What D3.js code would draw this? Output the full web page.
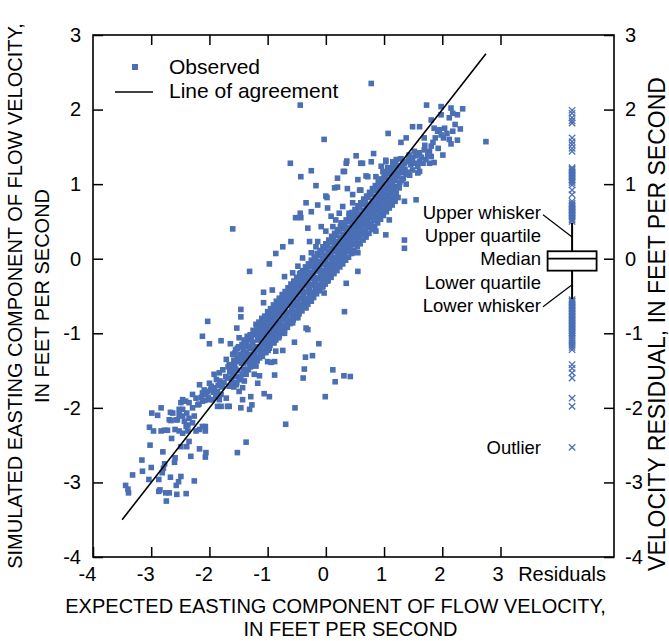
<!DOCTYPE html>
<html><head><meta charset="utf-8">
<script src="https://cdn.jsdelivr.net/npm/d3@7/dist/d3.min.js"></script>
<style>
body{margin:0;background:#fff}
svg{display:block}
text{font-family:"Liberation Sans",Arial,Helvetica,sans-serif;fill:#000}
</style>
</head><body>
<svg id="chart" width="669" height="641"></svg>
<script>
// ---------- data ----------
const axisTicks = [-4,-3,-2,-1,0,1,2,3];
const innerTicks = [-3,-2,-1,0,1,2,3];
const agreementEnds = [-3.5, 2.75];

const observedSparse = [
[-3.44,-3.04],[-3.40,-3.09],[-3.39,-3.14],[-3.32,-2.90],[-3.16,-2.70],[-3.15,-2.85],[-3.00,-2.80],[-3.04,-2.96],[-3.02,-2.50],[-3.03,-2.26],[-2.96,-2.31],[-2.99,-2.07],[-2.89,-2.10],[-2.83,-2.00],[-2.83,-2.31],[-2.77,-2.30],[-2.72,-2.30],[-2.67,-2.06],[-2.66,-2.17],[-2.65,-2.41],[-2.59,-2.29],[-2.52,-2.31],[-2.80,-2.59],[-2.77,-2.75],[-2.79,-2.81],[-2.81,-2.87],[-2.87,-2.96],[-2.85,-3.10],[-2.87,-3.12],[-2.75,-3.14],[-2.69,-3.14],[-2.74,-3.25],[-2.67,-2.93],[-2.60,-2.73],[-2.59,-2.67],[-2.57,-3.04],[-2.56,-3.16],[-2.53,-2.99],[-2.49,-2.92],[-2.40,-3.15],[-2.26,-2.98],[-2.49,-2.52],[-2.39,-2.52],[-2.35,-2.45],[-2.32,-2.65],[-2.17,-2.55],[-2.06,-2.60],[-2.07,-2.66],[-2.46,-2.34],[-2.37,-2.31],[-2.23,-2.31],[-2.17,-2.29],[-2.07,-2.31],[-2.07,-2.25],[-1.52,-2.60],[-2.49,-1.93],[-2.41,-1.91],[-2.46,-2.02],[-2.39,-2.07],[-2.35,-2.14],[-2.43,-2.18],[-2.29,-2.00],[-2.20,-1.96],[-2.12,-1.91],[-2.26,-2.11],[-2.52,-2.09],[-2.37,-2.23],[-2.00,-1.89],[-1.86,-1.98],[-1.69,-1.98],[-2.55,-2.16],
[-2.03,-0.84],[-1.53,-0.93],[-2.12,-1.04],[-2.00,-1.14],[-1.80,-1.10],[-1.64,-1.14],[-1.49,-1.06],[-1.52,-1.20],[-1.56,-1.26],[-1.36,-1.11],[-1.31,-1.20],[-1.20,-1.00],[-1.14,-0.93],[-1.03,-0.86],[-0.94,-1.00],[-0.88,-0.91],[-0.80,-1.04],[-0.86,-1.24],[-1.00,-1.38],[-1.09,-1.26],[-1.14,-1.18],[-1.26,-1.35],[-1.71,-1.35],[-1.66,-1.42],[-1.57,-1.42],[-1.77,-1.49],[-1.83,-1.53],[-1.92,-1.55],[-2.00,-1.67],[-2.17,-1.69],[-2.09,-1.76],[-1.97,-1.71],[-2.12,-1.80],[-2.03,-1.78],[-1.92,-1.73],[-1.86,-1.78],[-1.80,-1.82],[-1.89,-1.85],[-2.06,-1.82],[-1.95,-1.89],[-1.83,-1.89],[-2.29,-1.82],[-2.23,-1.87],[-2.35,-1.93],[-2.46,-1.89],[-2.52,-2.02],[-2.63,-2.07],[-2.69,-2.16],[-2.57,-2.16],[-2.46,-2.11],[-2.29,-2.20],[-2.40,-2.25],[-2.12,-2.25],[-1.80,-1.98],[-1.71,-1.87],[-1.66,-1.98],[-1.49,-1.78],[-1.43,-1.89],[-1.46,-2.00],[-1.29,-1.85],[-1.27,-1.96],[-1.31,-2.02],[-1.54,-1.69],[-1.66,-1.71],[-1.43,-1.73],[-1.40,-1.64],[-1.49,-1.62],[-1.43,-1.55],[-1.37,-1.55],[-1.34,-1.49],[-1.23,-1.55],[-1.17,-1.67],[-1.20,-1.44],[-1.31,-1.40],[-0.71,-1.00],[-1.40,-1.09],[-1.26,-1.13],[-1.17,-1.09],[-1.14,-1.02],[-1.09,-1.06],[-1.03,-1.13],[-0.97,-1.09],[-0.91,-0.95],[-0.83,-0.88],[-0.86,-0.84],[-1.03,-1.00],[-0.97,-1.20],[-1.23,-1.26],[-1.37,-1.26],[-1.43,-1.33],[-1.49,-1.38],[-1.34,-1.38],[-1.60,-1.55],[-1.69,-1.60],[-1.63,-1.49],
[-0.74,0.16],[-0.86,0.07],[-0.97,-0.07],[-1.31,-0.17],[-0.60,0.23],[-0.28,0.23],[-1.07,-0.45],[-0.92,-0.42],[-1.07,-0.59],[-1.46,-0.68],[-1.46,-0.78],[0.32,-0.71],[-0.03,-0.46],[0.35,-0.33],[0.55,-0.17],[0.46,0.08],[0.55,0.08],[0.40,0.16],[-0.34,-0.93],[-0.71,-0.24],[-0.57,-0.19],[-0.48,-0.10],[-0.43,-0.19],[-0.40,0.01],[-0.25,0.08],[-0.17,0.16],[-0.14,0.23],[0.00,0.19],[0.12,0.23],[0.23,0.08],[0.29,-0.01],[0.12,-0.19],[0.03,-0.30],[-0.05,-0.37],[-0.17,-0.46],[-0.25,-0.57],[-0.34,-0.66],[-0.48,-0.79],[-0.57,-0.86],[-0.74,-0.93],[-0.86,-0.97],[-0.97,-1.04],[-1.06,-1.11],[-1.14,-1.18],
[-0.34,0.75],[-0.43,0.55],[-0.31,0.41],[-0.25,0.63],[-0.14,0.72],[0.00,0.84],[0.03,0.68],[0.15,0.95],[0.20,1.08],[0.32,1.17],[0.35,1.28],[0.60,1.28],[0.78,1.30],[0.72,1.10],[0.86,1.10],[1.03,1.30],[1.18,1.06],[1.09,0.99],[1.21,0.88],[1.35,0.77],[1.55,0.79],[1.06,0.77],[0.98,0.61],[1.09,0.52],[0.86,0.37],[1.03,0.32],[1.35,0.25],[1.35,0.14],[0.83,0.57],[0.60,0.50],[0.69,0.32],[0.55,0.30],[0.40,0.28],[0.35,0.21],[0.29,0.12],[0.58,0.92],[0.46,0.86],[0.46,0.75],[0.60,0.75],[0.72,0.72],[0.72,0.63],[0.80,0.70],[0.95,0.86],[0.89,0.92],[0.98,0.99],[1.06,1.15],[1.21,1.15],[1.29,1.24],[1.38,1.13],[1.46,1.26],[1.58,1.15],[-0.08,0.43],[0.00,0.37],[0.12,0.43],[0.17,0.52],[0.09,0.57],[0.23,0.61],[0.29,0.70],[0.40,0.61],[0.26,0.48],[0.35,0.41],[0.46,0.48],[0.52,0.57],
[0.78,2.35],[1.73,2.06],[1.98,2.04],[2.15,2.02],[2.35,2.01],[2.18,1.95],[2.26,1.93],[1.98,1.93],[2.12,1.89],[1.81,1.86],[1.49,1.77],[1.61,1.77],[1.86,1.75],[1.95,1.73],[2.04,1.75],[2.18,1.71],[2.31,1.74],[1.98,1.66],[1.92,1.71],[1.07,1.68],[1.38,1.62],[1.69,1.62],[2.12,1.60],[2.26,1.59],[2.15,1.54],[2.75,1.57],[1.29,1.56],[1.81,1.51],[1.69,1.46],[1.78,1.44],[1.52,1.44],[1.61,1.42],[1.43,1.39],[1.81,1.37],[2.01,1.39],[1.29,1.34],[1.21,1.33],[1.15,1.30],[1.41,1.30],[1.49,1.33],[1.61,1.30],[1.72,1.33],[1.78,1.28],[1.86,1.29],[0.82,1.41],[1.03,1.32],[0.95,1.24],[1.06,1.22],[1.23,1.24],[1.32,1.22],[1.61,1.17],[1.49,1.19],[1.09,1.15],[0.98,1.17],
[-0.44,2.06],[-0.03,1.60],[-0.61,1.28],[0.52,1.38],[-0.43,1.10],[-0.25,1.18],[-0.17,0.98],[0.20,0.96],[0.36,1.31],[0.63,1.28],[0.30,1.17],[0.69,1.11],[0.02,0.82],[-0.44,0.61],[-0.52,0.55],[0.37,0.94],[0.55,1.06],[0.60,0.92],
[-0.31,-0.95],[-0.54,-1.12],[-0.12,-1.14],[-0.74,-1.23],[-0.35,-1.32],[-0.23,-1.30],[-0.88,-1.38],[-0.94,-1.39],[-0.37,-1.48],[0.12,-1.49],[-0.88,-1.56],[-1.14,-1.57],[-0.39,-1.60],[0.31,-1.57],[0.42,-1.58],[0.16,-1.65],[-1.06,-1.81],[-0.97,-1.85],[-0.01,-1.85],[-0.53,-2.00],[-0.69,-2.22],[-1.37,-2.46],[-1.60,0.40]
];

const observedCore = [
[-1.21,-1.02],[-1.19,-1.18],[-1.22,-1.30],[-1.18,-0.95],[-1.16,-1.08],[-1.13,-1.22],[-1.15,-0.98],
[-1.11,-1.05],[-1.08,-1.15],[-1.10,-0.92],[-1.12,-1.26],[-1.06,-0.98],[-1.04,-1.10],[-1.05,-0.88],
[-1.01,-0.96],[-0.99,-1.06],[-1.02,-0.84],[-0.98,-1.20],[-0.96,-0.90],[-0.94,-1.02],[-0.95,-0.80],[-0.93,-1.12],
[-0.91,-0.86],[-0.89,-0.95],[-0.90,-0.76],[-0.86,-0.82],[-0.84,-0.92],[-0.85,-0.70],[-0.83,-1.02],
[-0.81,-0.75],[-0.79,-0.86],[-0.80,-0.66],[-0.78,-0.98],[-0.76,-0.72],[-0.74,-0.80],[-0.75,-0.62],[-0.73,-0.90],
[-0.71,-0.66],[-0.69,-0.77],[-0.70,-0.56],[-0.68,-0.88],[-0.72,-0.70],[-0.66,-0.62],[-0.64,-0.72],[-0.65,-0.52],[-0.63,-0.83],
[-0.61,-0.58],[-0.59,-0.66],[-0.60,-0.48],[-0.58,-0.78],[-0.62,-0.60],[-0.56,-0.54],[-0.54,-0.62],[-0.55,-0.44],[-0.53,-0.72],
[-0.51,-0.50],[-0.49,-0.58],[-0.50,-0.40],[-0.48,-0.68],[-0.52,-0.46],[-0.46,-0.45],[-0.44,-0.53],[-0.45,-0.36],[-0.43,-0.62],
[-0.41,-0.40],[-0.39,-0.49],[-0.40,-0.31],[-0.38,-0.58],[-0.42,-0.43],[-0.36,-0.36],[-0.34,-0.44],[-0.35,-0.27],[-0.33,-0.54],
[-0.31,-0.31],[-0.29,-0.40],[-0.30,-0.22],[-0.28,-0.50],[-0.32,-0.34],[-0.26,-0.27],[-0.24,-0.35],[-0.25,-0.18],[-0.23,-0.45],
[-0.21,-0.22],[-0.19,-0.30],[-0.20,-0.13],[-0.18,-0.40],[-0.22,-0.25],[-0.16,-0.17],[-0.14,-0.26],[-0.15,-0.08],[-0.13,-0.36],
[-0.11,-0.13],[-0.09,-0.21],[-0.10,-0.04],[-0.08,-0.30],[-0.12,-0.16],[-0.06,-0.08],[-0.04,-0.17],[-0.05,0.01],[-0.03,-0.26],
[-0.01,-0.04],[0.01,-0.12],[0.00,0.05],[0.02,-0.22],[-0.02,-0.07],[0.04,0.01],[0.06,-0.08],[0.05,0.10],[0.07,-0.16],
[0.09,0.05],[0.11,-0.03],[0.10,0.14],[0.12,-0.12],[0.08,0.02],[0.14,0.10],[0.16,0.01],[0.15,0.19],[0.17,-0.07],
[0.19,0.14],[0.21,0.06],[0.20,0.23],[0.22,-0.03],[0.18,0.17],[0.24,0.19],[0.26,0.10],[0.25,0.28],[0.27,0.02],
[0.29,0.23],[0.31,0.15],[0.30,0.32],[0.32,0.06],[0.28,0.27],[0.34,0.28],[0.36,0.19],[0.35,0.37],[0.37,0.11],
[0.39,0.32],[0.41,0.24],[0.40,0.42],[0.42,0.15],[0.44,0.37],[0.46,0.28],[0.45,0.46],[0.47,0.20],[0.43,0.40],
[0.49,0.41],[0.51,0.32],[0.50,0.51],[0.52,0.24],[0.54,0.46],[0.56,0.37],[0.55,0.56],[0.57,0.28],
[0.59,0.50],[0.61,0.42],[0.60,0.60],[0.62,0.33],[0.58,0.54],[0.64,0.55],[0.66,0.46],[0.65,0.65],[0.67,0.37],
[0.69,0.60],[0.71,0.51],[0.70,0.69],[0.72,0.42],[0.74,0.64],[0.76,0.55],[0.75,0.73],[0.77,0.47],[0.73,0.68],
[0.79,0.69],[0.81,0.60],[0.80,0.78],[0.82,0.52],[0.84,0.73],[0.86,0.65],[0.85,0.83],[0.87,0.56],
[0.89,0.78],[0.91,0.69],[0.90,0.87],[0.92,0.61],[0.94,0.82],[0.96,0.74],[0.95,0.92],[0.97,0.66],
[0.99,0.87],[1.01,0.78],[1.00,0.96],[1.02,0.70],[1.04,0.92],[1.06,0.83],[1.05,1.01],[1.07,0.75],
[1.09,0.96],[1.11,0.88],[1.10,1.05],[1.12,0.80],[1.14,1.01],[1.16,0.92],[1.15,1.10],[1.19,1.05],[1.21,0.97],[1.20,1.14],
[-1.25,-1.20],[-1.28,-1.08],[-1.32,-1.28],[-1.35,-1.18],[-1.38,-1.30],[-1.42,-1.22],[-1.45,-1.40],[-1.47,-1.28],[-1.52,-1.33],[-1.55,-1.48],[-1.58,-1.36],[-1.62,-1.62],[-1.65,-1.52],[-1.68,-1.45],[-1.72,-1.58],[-1.75,-1.66],[-1.78,-1.72],[-1.82,-1.64],[-1.85,-1.70],[-1.88,-1.62],[-1.93,-1.79],[-1.98,-1.76],[-2.02,-1.86],[-2.08,-1.90],[-2.14,-1.86],[-2.18,-1.95],[-1.60,-1.68],[-1.54,-1.58],[-1.41,-1.48],[-1.30,-1.45],
[1.24,1.10],[1.27,1.02],[1.30,1.16],[1.33,1.08],[1.36,1.20],[1.40,1.16],[1.44,1.12],[1.47,1.36],[1.52,1.28],[1.55,1.38],[1.58,1.24],[1.64,1.36],[1.67,1.28],[1.70,1.52],[1.75,1.40],[1.84,1.56],[1.88,1.62],[1.93,1.48],[2.02,1.62],[2.08,1.68],[2.22,1.80],[1.26,0.95],[1.32,1.30],[1.18,1.20]
];

const observedCoreEdges = [
[-1.60,-1.28],[-1.58,-1.72],[-1.62,-1.45],[-1.55,-1.22],[-1.53,-1.66],[-1.57,-1.40],[-1.50,-1.18],[-1.48,-1.62],[-1.51,-1.50],
[-1.44,-1.15],[-1.46,-1.58],[-1.43,-1.30],[-1.40,-1.12],[-1.38,-1.52],[-1.41,-1.40],[-1.35,-1.04],[-1.33,-1.48],[-1.36,-1.35],
[-1.30,-1.02],[-1.28,-1.44],[-1.31,-1.30],[-1.25,-0.96],[-1.24,-1.40],[-1.26,-1.12],[-1.20,-0.88],[-1.18,-1.37],[-1.15,-0.85],[-1.14,-1.33],
[-1.10,-0.80],[-1.09,-1.31],[-1.05,-0.77],[-1.03,-1.26],[-1.00,-0.71],[-0.99,-1.23],[-0.95,-0.67],[-0.96,-1.16],[-0.90,-0.62],[-0.89,-1.13],
[-0.85,-0.57],[-0.86,-1.09],[-0.80,-0.53],[-0.81,-1.06],[-0.75,-0.48],[-0.74,-1.00],[-0.70,-0.44],[-0.71,-0.96],[-0.65,-0.39],[-0.66,-0.92],
[-0.60,-0.34],[-0.61,-0.87],[-0.55,-0.30],[-0.56,-0.82],[-0.50,-0.25],[-0.51,-0.79],[-0.45,-0.20],[-0.46,-0.74],[-0.40,-0.16],[-0.41,-0.70],
[-0.35,-0.11],[-0.36,-0.65],[-0.30,-0.07],[-0.31,-0.61],[-0.25,-0.02],[-0.26,-0.56],[-0.20,0.02],[-0.21,-0.52],[-0.15,0.07],[-0.16,-0.47],
[-0.10,0.11],[-0.11,-0.43],[-0.05,0.16],[-0.06,-0.38],[0.00,0.20],[-0.01,-0.34],[0.05,0.25],[0.04,-0.29],[0.10,0.30],[0.09,-0.25],
[0.15,0.34],[0.14,-0.20],[0.20,0.39],[0.19,-0.16],[0.25,0.43],[0.24,-0.11],[0.30,0.48],[0.29,-0.07],[0.35,0.52],[0.34,-0.02],
[0.40,0.57],[0.39,0.02],[0.45,0.62],[0.44,0.07],[0.50,0.66],[0.49,0.11],[0.55,0.71],[0.54,0.16],[0.60,0.75],[0.59,0.20],
[0.65,0.80],[0.64,0.25],[0.70,0.84],[0.69,0.29],[0.75,0.89],[0.74,0.34],[0.80,0.94],[0.79,0.39],[0.85,0.98],[0.84,0.43],
[0.90,1.03],[0.89,0.48],[0.95,1.07],[0.94,0.53],[1.00,1.12],[0.99,0.58],[1.05,1.16],[1.04,0.63],[1.10,1.21],[1.09,0.68],
[1.15,1.25],[1.14,0.72],[1.20,1.28],[1.19,0.77],[1.25,1.22],[1.24,0.82],[1.30,1.05],[1.35,1.28],[1.38,1.00],[1.42,1.32]
];

const observedCoreFill = [
[-1.175,-0.93],[-1.17,-1.07],[-1.18,-1.22],[-1.175,-1.33],[-1.125,-0.89],[-1.13,-1.03],[-1.12,-1.18],[-1.125,-1.29],
[-1.075,-0.84],[-1.07,-0.98],[-1.08,-1.13],[-1.075,-1.24],[-1.025,-0.79],[-1.03,-0.93],[-1.02,-1.08],[-1.025,-1.19],
[-0.975,-0.75],[-0.97,-0.89],[-0.98,-1.04],[-0.975,-1.15],[-0.925,-0.70],[-0.93,-0.84],[-0.92,-0.99],[-0.925,-1.10],
[-0.875,-0.66],[-0.87,-0.80],[-0.88,-0.95],[-0.875,-1.06],[-0.825,-0.61],[-0.83,-0.75],[-0.82,-0.90],[-0.825,-1.01],
[-0.775,-0.56],[-0.77,-0.70],[-0.78,-0.85],[-0.775,-0.96],[-0.725,-0.52],[-0.73,-0.66],[-0.72,-0.81],[-0.725,-0.92],
[-0.675,-0.47],[-0.67,-0.61],[-0.68,-0.76],[-0.675,-0.87],[-0.625,-0.43],[-0.63,-0.57],[-0.62,-0.72],[-0.625,-0.83],
[-0.575,-0.38],[-0.57,-0.52],[-0.58,-0.67],[-0.575,-0.78],[-0.525,-0.33],[-0.53,-0.47],[-0.52,-0.62],[-0.525,-0.73],
[-0.475,-0.29],[-0.47,-0.43],[-0.48,-0.58],[-0.475,-0.69],[-0.425,-0.24],[-0.43,-0.38],[-0.42,-0.53],[-0.425,-0.64],
[-0.375,-0.20],[-0.37,-0.34],[-0.38,-0.49],[-0.375,-0.60],[-0.325,-0.15],[-0.33,-0.29],[-0.32,-0.44],[-0.325,-0.55],
[-0.275,-0.10],[-0.27,-0.24],[-0.28,-0.39],[-0.275,-0.50],[-0.225,-0.06],[-0.23,-0.20],[-0.22,-0.35],[-0.225,-0.46],
[-0.175,-0.01],[-0.17,-0.15],[-0.18,-0.30],[-0.175,-0.41],[-0.125,0.04],[-0.13,-0.11],[-0.12,-0.26],[-0.125,-0.37],
[-0.075,0.08],[-0.07,-0.06],[-0.08,-0.21],[-0.075,-0.32],[-0.025,0.13],[-0.03,-0.01],[-0.02,-0.16],[-0.025,-0.27],
[0.025,0.17],[0.03,0.03],[0.02,-0.12],[0.025,-0.23],[0.075,0.22],[0.07,0.08],[0.08,-0.07],[0.075,-0.18],
[0.125,0.27],[0.13,0.13],[0.12,-0.03],[0.125,-0.14],[0.175,0.31],[0.17,0.17],[0.18,0.02],[0.175,-0.09],
[0.225,0.36],[0.23,0.22],[0.22,0.07],[0.225,-0.04],[0.275,0.40],[0.27,0.26],[0.28,0.11],[0.275,0.00],
[0.325,0.45],[0.33,0.31],[0.32,0.16],[0.325,0.05],[0.375,0.50],[0.37,0.36],[0.38,0.21],[0.375,0.10],
[0.425,0.54],[0.43,0.40],[0.42,0.25],[0.425,0.14],[0.475,0.59],[0.47,0.45],[0.48,0.30],[0.475,0.19],
[0.525,0.63],[0.53,0.49],[0.52,0.34],[0.525,0.23],[0.575,0.68],[0.57,0.54],[0.58,0.39],[0.575,0.28],
[0.625,0.73],[0.63,0.59],[0.62,0.44],[0.625,0.33],[0.675,0.77],[0.67,0.63],[0.68,0.48],[0.675,0.37],
[0.725,0.82],[0.73,0.68],[0.72,0.53],[0.725,0.42],[0.775,0.86],[0.77,0.72],[0.78,0.57],[0.775,0.46],
[0.825,0.91],[0.83,0.77],[0.82,0.62],[0.825,0.51],[0.875,0.95],[0.87,0.81],[0.88,0.66],[0.875,0.55],
[0.925,1.00],[0.93,0.86],[0.92,0.71],[0.925,0.60],[0.975,1.05],[0.97,0.91],[0.98,0.76],[0.975,0.65],
[1.025,1.09],[1.03,0.95],[1.02,0.80],[1.025,0.69],[1.075,1.14],[1.07,1.00],[1.08,0.85],[1.075,0.74],
[1.125,1.19],[1.13,1.05],[1.12,0.90],[1.125,0.79],[1.175,1.23],[1.17,1.09],[1.18,0.94],[1.175,0.83]
];

const residualOutliers = [
1.99,1.95,1.89,1.85,1.82,1.62,1.57,1.53,1.48,1.44,
1.22,1.20,1.18,1.16,1.14,1.12,1.10,1.08,1.06,1.04,1.02,0.99,0.92,0.86,
0.77,0.74,0.72,0.70,0.68,0.66,0.64,0.62,0.60,0.58,0.56,0.54,0.52,0.50,
-0.55,-0.57,-0.59,-0.61,-0.63,-0.65,-0.67,-0.69,-0.71,-0.73,-0.75,-0.77,-0.79,-0.81,-0.83,-0.85,-0.87,-0.89,-0.91,-0.93,-0.95,-0.97,-0.99,-1.01,-1.04,-1.07,-1.10,-1.13,-1.16,-1.19,-1.22,
-1.42,-1.47,-1.53,-1.60,-1.87,-1.98
];
const boxValues = [-0.54, -0.16, 0.00, 0.10, 0.48]; // lower whisker, lower quartile, median, upper quartile, upper whisker
const boxLabels = ["Lower whisker","Lower quartile","Median","Upper quartile","Upper whisker"];
const outlierExample = -2.53;
const residualX = 4.23;

// ---------- drawing ----------
const blue = "#4a6fb5";
const svg = d3.select("#chart");
const L = 93, R = 614, T = 35, B = 557;
const x = d3.scaleLinear().domain([-4, 4.95]).range([L, R]);
const y = d3.scaleLinear().domain([-4, 3]).range([B, T]);

// points
const pts = observedSparse.concat(observedCore, observedCoreEdges, observedCoreFill);
const ms = 5.6;
svg.append("g").selectAll("rect").data(pts).join("rect")
  .attr("x", d => x(d[0]) - ms/2).attr("y", d => y(d[1]) - ms/2)
  .attr("width", ms).attr("height", ms).attr("fill", blue);

// line of agreement
svg.append("line")
  .attr("x1", x(agreementEnds[0])).attr("y1", y(agreementEnds[0]))
  .attr("x2", x(agreementEnds[1])).attr("y2", y(agreementEnds[1]))
  .attr("stroke", "#000").attr("stroke-width", 1.6);

// axes
const fs = "20px";
const fmt = d => String(d);
const gL = svg.append("g").attr("transform", `translate(${L},0)`)
  .call(d3.axisLeft(y).tickValues(axisTicks).tickSizeInner(-10).tickSizeOuter(0).tickPadding(12).tickFormat(fmt));
const gR = svg.append("g").attr("transform", `translate(${R},0)`)
  .call(d3.axisRight(y).tickValues(axisTicks).tickSizeInner(-10).tickSizeOuter(0).tickPadding(11).tickFormat(fmt));
const gB = svg.append("g").attr("transform", `translate(0,${B})`)
  .call(d3.axisBottom(x).tickValues(axisTicks).tickSizeInner(-10).tickSizeOuter(0).tickPadding(10).tickFormat(fmt));
const gT = svg.append("g").attr("transform", `translate(0,${T})`)
  .call(d3.axisTop(x).tickValues(innerTicks).tickSizeInner(-10).tickSizeOuter(0).tickFormat(""));
[gL,gR,gB,gT].forEach(g => {
  g.select(".domain").remove();
  g.selectAll("line").attr("stroke","#000").attr("stroke-width",1.5);
  g.selectAll("text").attr("font-size", fs).attr("font-family","Liberation Sans, Arial, sans-serif").attr("fill","#000");
});
gB.selectAll("text").attr("dx", d => d < 0 ? "-0.3em" : "-0.15em");
svg.append("text").attr("x", x(residualX) - 10).attr("y", B + 10).attr("dy","0.71em")
  .attr("text-anchor","middle").attr("font-size", fs).text("Residuals");

// frame
svg.append("rect").attr("x", L).attr("y", T).attr("width", R - L).attr("height", B - T)
  .attr("fill","none").attr("stroke","#000").attr("stroke-width",1.6);

// residual outliers
const xr = x(residualX);
const cr = 3.2;
const crossPath = d => `M${xr-cr},${y(d)-cr}L${xr+cr},${y(d)+cr}M${xr-cr},${y(d)+cr}L${xr+cr},${y(d)-cr}`;
svg.append("g").selectAll("path").data(residualOutliers.concat([outlierExample])).join("path")
  .attr("d", crossPath).attr("stroke", blue).attr("stroke-width", 1.3).attr("fill","none");

// box plot
const bw = 49;
svg.append("line").attr("x1", xr).attr("x2", xr).attr("y1", y(boxValues[4])).attr("y2", y(boxValues[0]))
  .attr("stroke","#000").attr("stroke-width",2);
svg.append("rect").attr("x", xr - bw/2).attr("width", bw)
  .attr("y", y(boxValues[3])).attr("height", y(boxValues[1]) - y(boxValues[3]))
  .attr("fill","#fff").attr("stroke","#000").attr("stroke-width",1.8);
svg.append("line").attr("x1", xr - bw/2).attr("x2", xr + bw/2).attr("y1", y(boxValues[2])).attr("y2", y(boxValues[2]))
  .attr("stroke","#000").attr("stroke-width",1.8);

// box labels
const labX = 541, ym = y(boxValues[2]);
const labOffsets = [47, 24, 0, -23, -46];
boxLabels.forEach((t,i) => {
  svg.append("text").attr("x", labX).attr("y", ym + labOffsets[i]).attr("dy","0.35em")
    .attr("text-anchor","end").attr("font-size","18.5px").text(t);
});
svg.append("line").attr("x1", labX + 2).attr("y1", ym - 44).attr("x2", xr).attr("y2", y((boxValues[3]+boxValues[4])/2))
  .attr("stroke","#000").attr("stroke-width",1.2);
svg.append("line").attr("x1", labX + 2).attr("y1", ym + 48).attr("x2", xr).attr("y2", y((boxValues[1]+boxValues[0])/2))
  .attr("stroke","#000").attr("stroke-width",1.2);
svg.append("text").attr("x", labX).attr("y", y(outlierExample)).attr("dy","0.35em")
  .attr("text-anchor","end").attr("font-size","18.5px").text("Outlier");

// legend
svg.append("rect").attr("x", 132).attr("y", 64).attr("width", 6).attr("height", 6).attr("fill", blue);
svg.append("text").attr("x", 169).attr("y", 67).attr("dy","0.35em").attr("font-size","21px").text("Observed");
svg.append("line").attr("x1", 115).attr("x2", 153).attr("y1", 92).attr("y2", 92).attr("stroke","#000").attr("stroke-width",1.6);
svg.append("text").attr("x", 169).attr("y", 91).attr("dy","0.35em").attr("font-size","21px").text("Line of agreement");

// axis titles
const midX = (L + R) / 2, midY = (T + B) / 2;
svg.append("text").attr("x", midX - 18).attr("y", 606).attr("dy","0.35em").attr("text-anchor","middle")
  .attr("font-size","20px").text("EXPECTED EASTING COMPONENT OF FLOW VELOCITY,");
svg.append("text").attr("x", midX - 3).attr("y", 629).attr("dy","0.35em").attr("text-anchor","middle")
  .attr("font-size","20px").text("IN FEET PER SECOND");
svg.append("text").attr("transform", `translate(15,${midY}) rotate(-90)`).attr("dy","0.35em").attr("text-anchor","middle")
  .attr("font-size","20px").text("SIMULATED EASTING COMPONENT OF FLOW VELOCITY,");
svg.append("text").attr("transform", `translate(42,${midY}) rotate(-90)`).attr("dy","0.35em").attr("text-anchor","middle")
  .attr("font-size","20px").text("IN FEET PER SECOND");
svg.append("text").attr("transform", `translate(657,${midY + 28}) rotate(-90)`).attr("dy","0.35em").attr("text-anchor","middle")
  .attr("font-size","23px").text("VELOCITY RESIDUAL, IN FEET PER SECOND");
</script>
</body></html>
